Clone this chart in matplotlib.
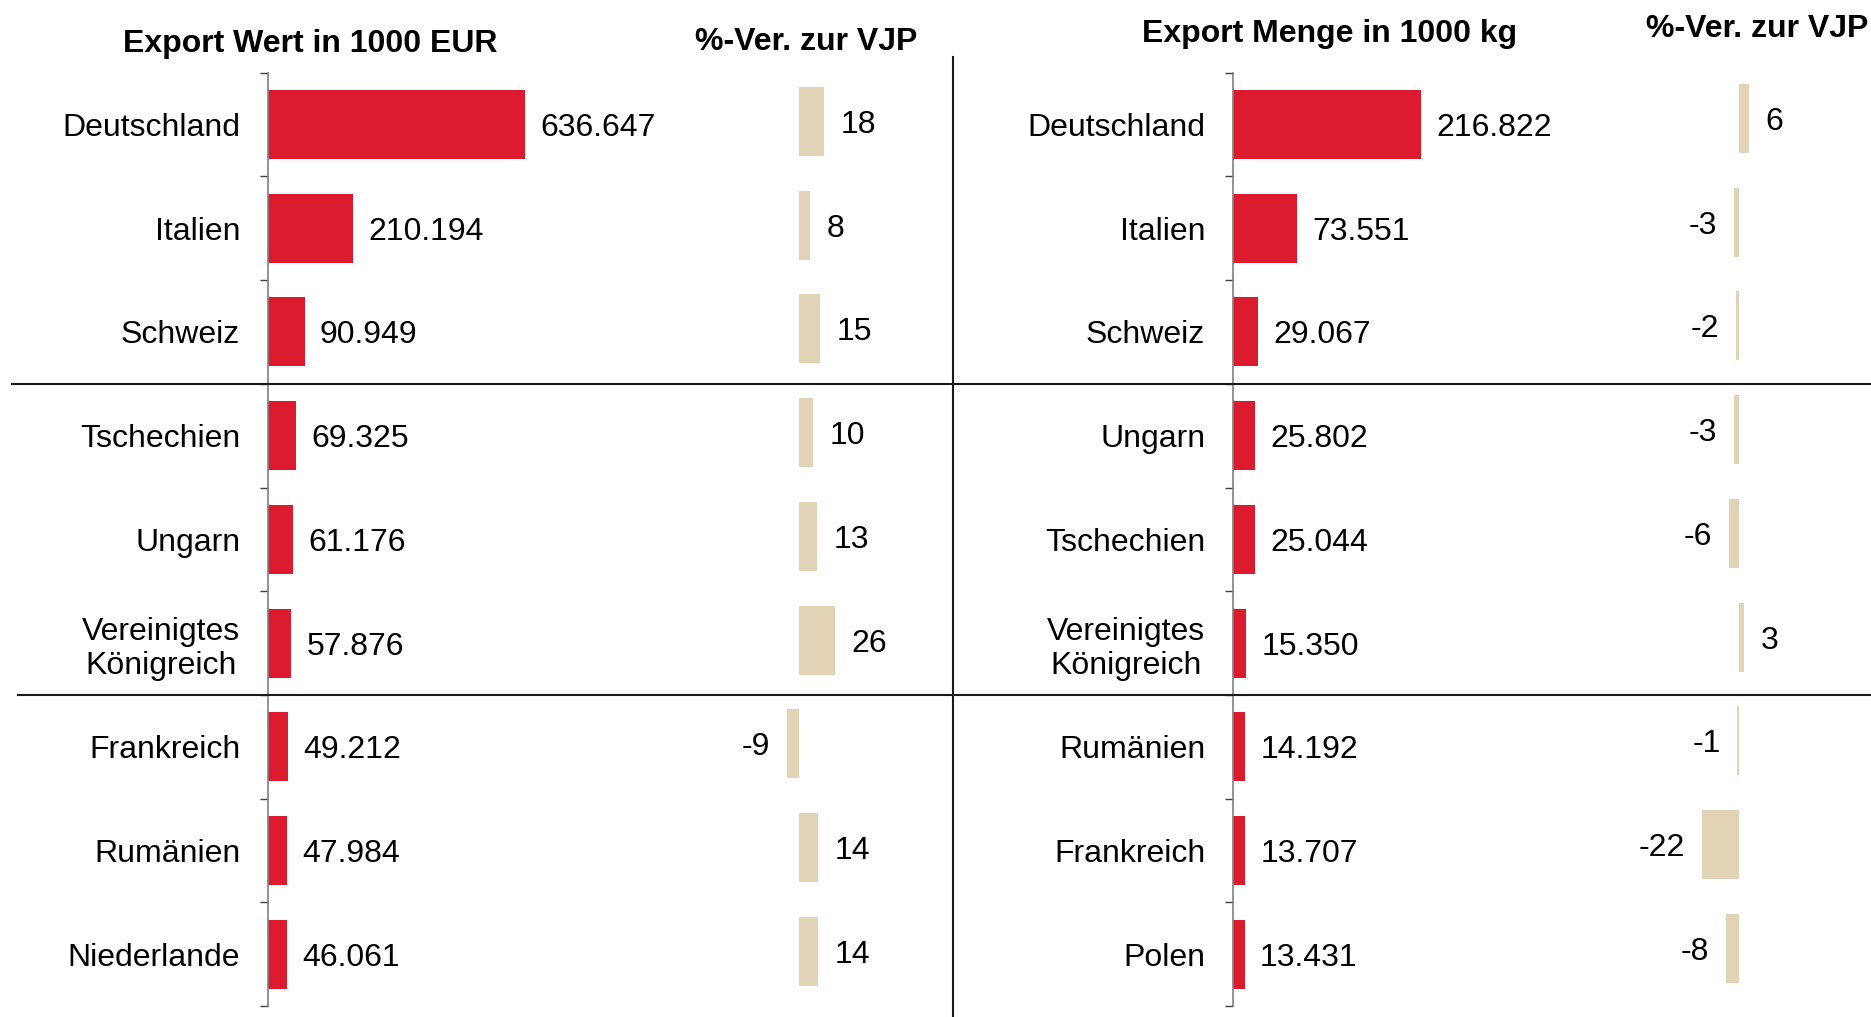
import matplotlib
matplotlib.use('Agg')
import matplotlib.pyplot as plt
import numpy as np
from matplotlib.lines import Line2D

# === DATA ===
wert_countries = ['Deutschland', 'Italien', 'Schweiz', 'Tschechien', 'Ungarn',
                  'Vereinigtes\nKönigreich', 'Frankreich', 'Rumänien', 'Niederlande']
wert_values = [636647, 210194, 90949, 69325, 61176, 57876, 49212, 47984, 46061]
wert_pct = [18, 8, 15, 10, 13, 26, -9, 14, 14]

menge_countries = ['Deutschland', 'Italien', 'Schweiz', 'Ungarn', 'Tschechien',
                   'Vereinigtes\nKönigreich', 'Rumänien', 'Frankreich', 'Polen']
menge_values = [216822, 73551, 29067, 25802, 25044, 15350, 14192, 13707, 13431]
menge_pct = [6, -3, -2, -3, -6, 3, -1, -22, -8]

RED = '#DC1B2F'
BEIGE = '#E2D3B7'
FS = 23

plt.rcParams['font.family'] = ['Liberation Sans', 'DejaVu Sans']

W, H = 1871, 1017
fig = plt.figure(figsize=(W / 100, H / 100), dpi=100)
fig.patch.set_facecolor('white')

top_px, row_px = 72.7, 103.7
n = len(wert_countries)
bot_px = top_px + n * row_px


def axes_px(x0, x1, shift=0):
    return fig.add_axes([x0 / W, (H - bot_px + shift) / H, (x1 - x0) / W, (bot_px - top_px) / H])


def fmt(v):
    return f'{v:,}'.replace(',', '.')


def main_panel(x0, x1, xmax, names, vals):
    ax = axes_px(x0, x1)
    y = np.arange(len(names))
    ax.barh(y, vals, height=0.665, color=RED)
    ax.set_xlim(0, xmax)
    ax.set_ylim(len(names) - 0.5, -0.5)
    ax.set_yticks(y)
    ax.set_yticklabels(names, fontsize=FS, multialignment='center', linespacing=1.2)
    ax.set_yticks(np.arange(-0.5, len(names), 1), minor=True)
    ax.tick_params(axis='y', which='major', length=0, pad=20)
    ax.tick_params(axis='y', which='minor', length=6, width=1, color='#404040')
    ax.set_xticks([])
    for s in ['top', 'right', 'bottom']:
        ax.spines[s].set_visible(False)
    ax.spines['left'].set_color('#808080')
    ax.spines['left'].set_linewidth(1.2)
    ax.set_facecolor('none')
    for yi, v in zip(y, vals):
        ax.annotate(fmt(v), (v, yi), xytext=(11, 0), textcoords='offset points',
                    va='center_baseline', ha='left', fontsize=FS)
    return ax


def pct_panel(x0, x1, zero_px, px_per_unit, shift, vals):
    ax = axes_px(x0, x1, shift)
    y = np.arange(len(vals))
    ax.barh(y, vals, height=0.665, color=BEIGE)
    ax.set_xlim(-(zero_px - x0) / px_per_unit, (x1 - zero_px) / px_per_unit)
    ax.set_ylim(len(vals) - 0.5, -0.5)
    ax.axis('off')
    for yi, v in zip(y, vals):
        if v >= 0:
            ax.annotate(str(v), (v, yi), xytext=(12, 0), textcoords='offset points',
                        va='center_baseline', ha='left', fontsize=FS)
        else:
            ax.annotate(str(v), (v, yi), xytext=(-12, 0), textcoords='offset points',
                        va='center_baseline', ha='right', fontsize=FS)
    return ax


# left: Export Wert
main_panel(268, 740, (740 - 268) / 256.8 * 636647, wert_countries, wert_values)
pct_panel(740, 920, 799, 1.38, 3, wert_pct)

# right: Export Menge
main_panel(1233, 1650, (1650 - 1233) / 188.0 * 216822, menge_countries, menge_values)
pct_panel(1650, 1871, 1739, 1.68, 6, menge_pct)


# titles
def ftext(x, y, s):
    fig.text(x / W, 1 - y / H, s, ha='center', va='baseline', fontsize=FS, fontweight='bold')


ftext(310, 52, 'Export Wert in 1000 EUR')
ftext(806, 50, '%-Ver. zur VJP')
ftext(1330, 42, 'Export Menge in 1000 kg')
ftext(1757, 37, '%-Ver. zur VJP')


# separator lines
def fline(x0, y0, x1, y1):
    fig.add_artist(Line2D([x0 / W, x1 / W], [1 - y0 / H, 1 - y1 / H],
                          transform=fig.transFigure, color='#1a1a1a', linewidth=1.5))


fline(953, 57, 953, H)
fline(12, top_px + 3 * row_px, W, top_px + 3 * row_px)
fline(18, top_px + 6 * row_px, W, top_px + 6 * row_px)

fig.savefig('out.png', dpi=100, facecolor='white')
